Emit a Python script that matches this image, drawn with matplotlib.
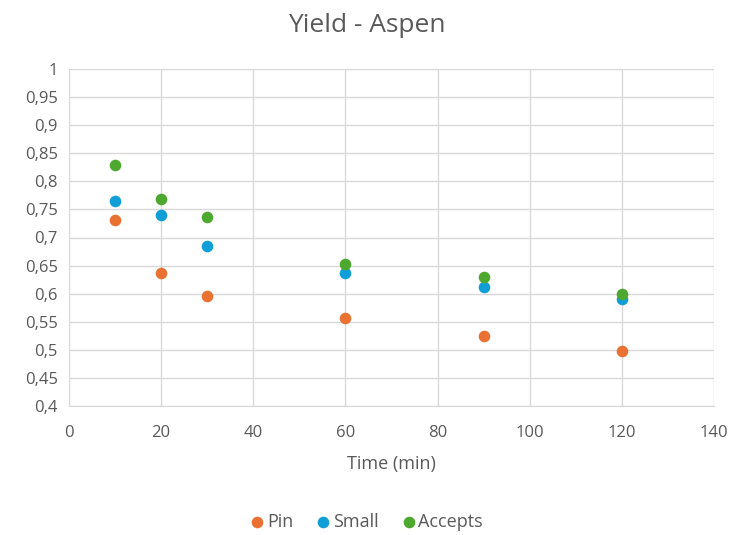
import matplotlib.pyplot as plt
from matplotlib.ticker import FuncFormatter

# Data
time_min = [10, 20, 30, 60, 90, 120]
pin = [0.731, 0.637, 0.596, 0.557, 0.525, 0.498]
small = [0.765, 0.740, 0.685, 0.636, 0.612, 0.590]
accepts = [0.829, 0.769, 0.737, 0.653, 0.630, 0.599]

series_names = ["Pin", "Small", "Accepts"]
colors = ["#E97132", "#0F9ED5", "#4EA72E"]

plt.rcParams['font.family'] = ['Open Sans', 'DejaVu Sans']
text_color = "#595959"

fig = plt.figure(figsize=(7.34, 5.35), dpi=100)
ax = fig.add_axes([69 / 734, 1 - 406 / 535, (714 - 69) / 734, (406 - 69) / 535])

for vals, name, c in zip([pin, small, accepts], series_names, colors):
    ax.scatter(time_min, vals, s=70, color=c, label=name, zorder=3, linewidths=0)

ax.set_xlim(0, 140)
ax.set_ylim(0.4, 1.0)
ax.set_xticks(range(0, 141, 20))
ax.set_yticks([0.4 + 0.05 * i for i in range(13)])

def comma_fmt(v, pos):
    s = f"{v:.2f}".rstrip("0").rstrip(".")
    return s.replace(".", ",")

ax.yaxis.set_major_formatter(FuncFormatter(comma_fmt))
ax.xaxis.set_major_formatter(FuncFormatter(comma_fmt))

ax.grid(True, color="#D9D9D9", linewidth=1, zorder=0)
ax.set_axisbelow(True)
for side in ["top", "right", "left"]:
    ax.spines[side].set_visible(False)
ax.spines["bottom"].set_color("#D9D9D9")
ax.tick_params(axis="both", length=0, labelsize=12, colors=text_color)
ax.tick_params(axis="x", pad=14)
ax.tick_params(axis="y", pad=8)

ax.set_xlabel("Time (min)", fontsize=13, color=text_color, labelpad=10)
fig.suptitle("Yield - Aspen", fontsize=19, color=text_color, y=0.975)

fig.legend(loc="center", bbox_to_anchor=(0.5, 1 - 522 / 535), ncol=3, frameon=False,
           fontsize=13, labelcolor=text_color, handlelength=0.7, handletextpad=0.2,
           columnspacing=1.3, markerscale=1.0)

plt.savefig("out.png", dpi=100)
